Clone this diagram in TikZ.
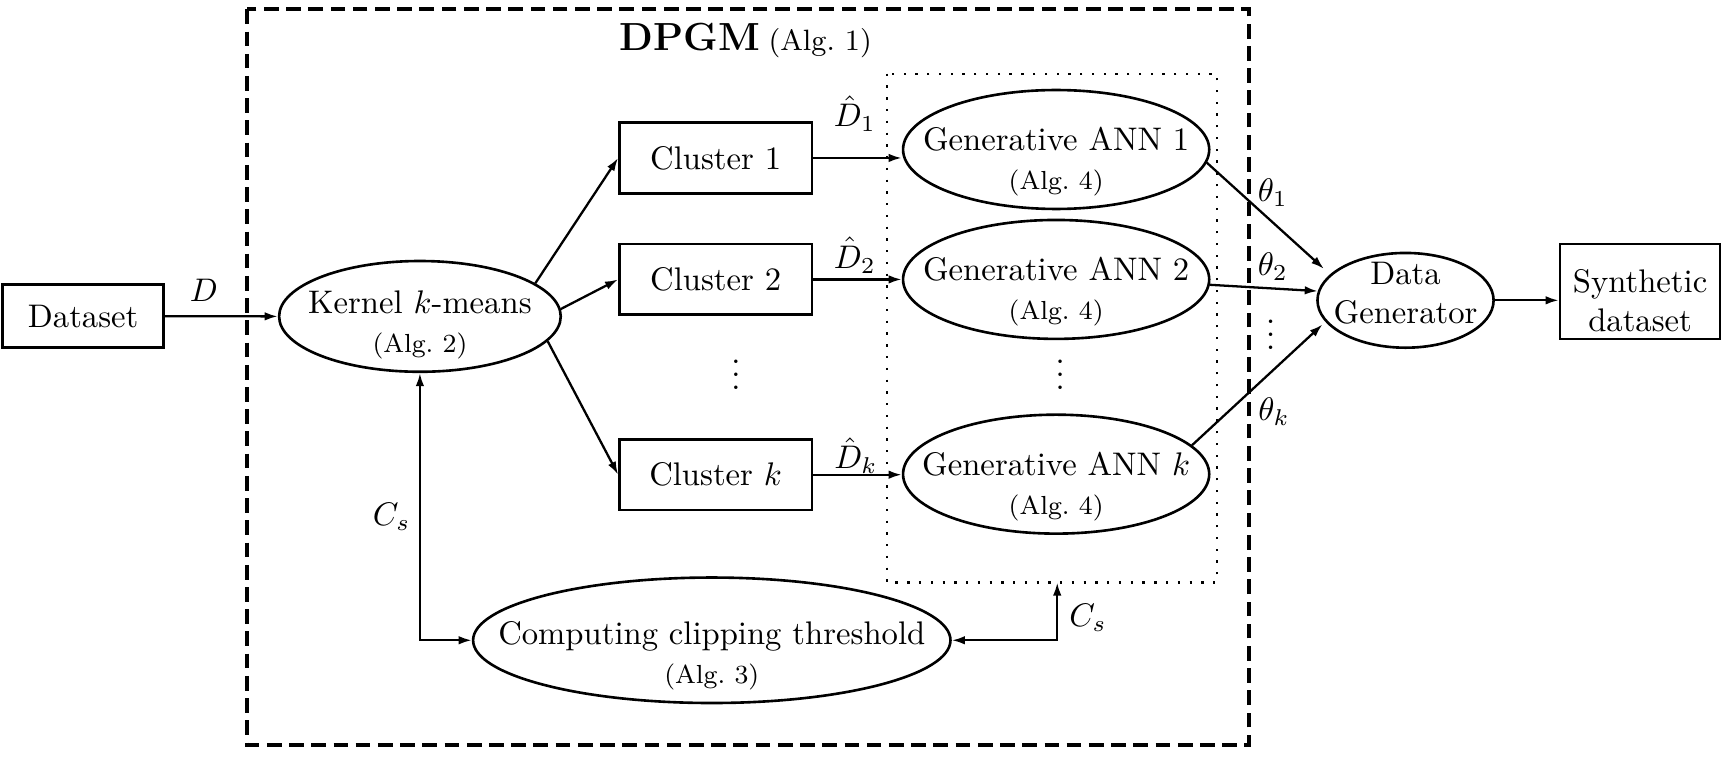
\documentclass[tikz,border=0pt]{standalone}
\usetikzlibrary{arrows.meta,shapes.geometric}
\newcommand{\tstr}[1]{\rule{0pt}{#1}}
\newcommand{\bstr}[1]{\rule[-#1]{0pt}{#1}}
\begin{document}
\begin{tikzpicture}[x=0.3367pt,y=-0.3367pt,
  rectnode/.style={draw, line width=0.8pt, rectangle, inner sep=0pt, align=center},
  ellnode/.style={draw, line width=0.8pt, ellipse, inner xsep=-40pt, inner ysep=-14pt, align=center},
  conn/.style={line width=0.7pt, -{Latex[length=4pt,width=2.6pt]}},
  bconn/.style={line width=0.7pt, {Latex[length=4pt,width=2.6pt]}-{Latex[length=4pt,width=2.6pt]}},
  lab/.style={inner sep=0pt}]
\useasboundingbox (0,0) rectangle (1568,688);

% frames
\draw[line width=1.2pt, dash pattern=on 4.5pt off 2.3pt] (224.4,8.5) rectangle (1135.5,677);
\draw[line width=0.7pt, dash pattern=on 0.7pt off 2.9pt] (806,67) rectangle (1106,529.5);

\node[lab, anchor=base west] (title) at (562.6,45.5) {{\large\bfseries DPGM}\hspace{2.6pt}{\small (Alg.~1)}};

% nodes
\node[rectnode, minimum width=49.2pt, minimum height=19.2pt] (data) at (75.6,287.4) {Dataset};
\node[ellnode, minimum width=86.2pt, minimum height=33.9pt] (kern) at (381.7,287.6) {\tstr{12.1pt}Kernel $k$-means\\{\footnotesize (Alg.~2)}};
\node[rectnode, minimum width=58.9pt, minimum height=21.6pt] (c1) at (650.5,143.6) {Cluster 1};
\node[rectnode, minimum width=58.9pt, minimum height=21.6pt] (c2) at (650.5,254) {Cluster 2};
\node[rectnode, minimum width=58.9pt, minimum height=21.6pt] (ck) at (650.5,431.5) {Cluster $k$};
\node[lab] (vd1) at (669,332) {$\vdots$};
\node[ellnode, minimum width=93.7pt, minimum height=36.4pt] (g1) at (960,135.9) {\tstr{14.7pt}Generative ANN 1\\{\footnotesize (Alg.~4)}};
\node[ellnode, minimum width=93.7pt, minimum height=36.4pt] (g2) at (960,254) {\tstr{14.7pt}Generative ANN 2\\{\footnotesize (Alg.~4)}};
\node[ellnode, minimum width=93.7pt, minimum height=36.4pt] (gk) at (960,431) {\tstr{14.7pt}Generative ANN $k$\\{\footnotesize (Alg.~4)}};
\node[lab] (vd2) at (963.6,332) {$\vdots$};
\node[ellnode, minimum width=53.9pt, minimum height=29pt] (dg) at (1277.6,273) {Data\\Generator\bstr{4.8pt}};
\node[rectnode, minimum width=49pt, minimum height=29pt] (syn) at (1490.8,265) {\tstr{12.7pt}Synthetic\\dataset};
\node[ellnode, minimum width=146.1pt, minimum height=38.4pt] (comp) at (647,582) {\tstr{16.5pt}Computing clipping threshold\\{\footnotesize (Alg.~3)}};

% labels
\node[lab] (lD) at (185.3,263.6) {$D$};
\node[lab] (lD1) at (777,103) {$\hat{D}_1$};
\node[lab] (lD2) at (777,232) {$\hat{D}_2$};
\node[lab] (lDk) at (778,414) {$\hat{D}_k$};
\node[lab] (lt1) at (1157,175) {$\theta_1$};
\node[lab] (lt2) at (1157,242) {$\theta_2$};
\node[lab] (vd3) at (1155,295.5) {$\vdots$};
\node[lab] (ltk) at (1158,374) {$\theta_k$};
\node[lab] (lCs1) at (356,470) {$C_s$};
\node[lab] (lCs2) at (989,562) {$C_s$};

% connectors
\draw[conn] (data.east) -- (kern.west);
\draw[conn] (kern.16) -- (c1.west);
\draw[conn] (kern.3) -- (c2.west);
\draw[conn] (kern.-11) -- (ck.west);
\draw[conn] (c1.east) -- (c1.east -| g1.west);
\draw[conn] (c2.east) -- (c2.east -| g2.west);
\draw[conn] (ck.east) -- (ck.east -| gk.west);
\draw[conn, shorten >=2.5pt] (g1.-5) -- (dg.161);
\draw[conn] (g2.-2) -- (dg.174);
\draw[conn, shorten >=1.2pt] (gk.12) -- (dg.195);
\draw[conn] (dg.east) -- (dg.east -| syn.west);
\draw[bconn] (kern.south) |- (comp.west);
\coordinate (dotb) at (961,529.5);
\draw[bconn] (dotb) |- (comp.east);
\end{tikzpicture}
\end{document}
